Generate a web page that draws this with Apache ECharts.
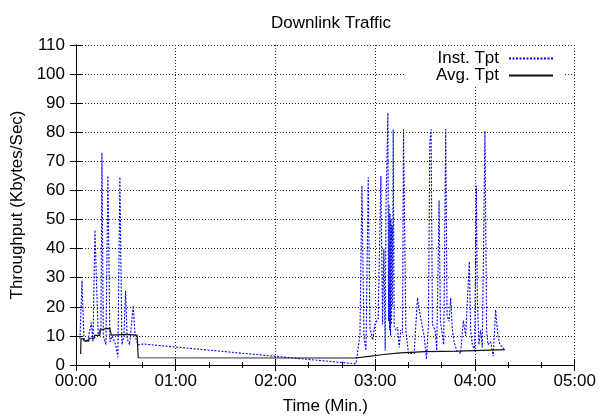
<!DOCTYPE html>
<html>
<head>
<meta charset="utf-8">
<script src="https://cdn.jsdelivr.net/npm/echarts@6/dist/echarts.min.js"></script>
<style>html,body{margin:0;padding:0;background:#fff}#c{width:599px;height:420px}</style>
</head>
<body>
<div id="c"></div>
<script>
// Time in seconds, values in Kbytes/Sec
var instTime = [2.4,3.6,4.8,7.0,9.2,10.2,11.4,12.4,13.4,15.0,15.6,16.4,18.0,19.2,20.4,21.8,23.8,25.2,26.4,27.6,28.8,29.8,30.8,32.2,34.4,35.6,37.2,40.8,
  168.4,169.4,170.8,172,173.2,174.4,175.8,176.8,178.4,179.8,181.8,183.4,184.4,185.2,186,186.4,187.6,188.0,188.3,188.6,188.9,189.2,189.5,189.8,190.1,190.4,190.8,191.4,192.4,193.4,194.4,195.4,196.4,197,198.4,200,
  203.4,205.4,207.4,209.4,210.8,212,212.8,213.6,214.4,216,217,218.4,219.2,220,221.2,222.4,223.2,224.4,225.4,226.4,227.4,229,231.4,233,234.4,236.6,237.4,238.4,239.8,240.8,241.4,242.4,243.4,244.4,246,247,247.8,249.4,251,252.4,253.8,255,257.4];
var instVal = [9,29,8.5,8,14.6,8,46.4,27,10,12,73,10,7,65,8,10,7,2.7,64.6,7,10,25.5,9,7,20.4,10,7,7.2,
  0.4,0.4,10.2,61.7,10,5,64.5,13,8.6,14,16,65,14,40,5,52,86.6,15,55,12,52,10,50,14,48,20,81,13,12,13,6,12,11,81,12,3.9,
  4,23,16,10,2,14,76,81,14,12,5,56.6,15,12,7,81,17,15,23,12,8,5,4,15.3,10,35.6,12,7,5,61.7,23,7,12,6,80.4,12,7,8,3,19,10,7,5.5];
var avgTime = [2.8,3.0,4.8,4.8,7.8,7.8,11.2,11.2,14.4,14.4,18,20.4,21.2,30,36.8,37.4,168,175,185,195,210,230,258];
var avgVal  = [3.8,9,9,8.3,8.3,9.2,9.2,10.2,10.2,12,12.5,12.6,10.3,10.5,10.3,2.5,2.4,2.9,3.6,4.2,4.6,4.8,5.3];
var xTickLabels = ['00:00','01:00','02:00','03:00','04:00','05:00'];
var yTickValues = [0,10,20,30,40,50,60,70,80,90,100,110];

function zip(a,b){var r=[];for(var i=0;i<a.length;i++)r.push([a[i],b[i]]);return r;}
var font = 'Liberation Sans, Arial, sans-serif';
var FS = 17;
var chart = echarts.init(document.getElementById('c'));
var axisLine = {show:true, lineStyle:{color:'#000', width:1}};
var grid = {show:true, lineStyle:{color:'#222', type:[1,2], width:1}};
chart.setOption({
  animation:false,
  title:{text:'Downlink Traffic', left:326, textAlign:'center', top:10, textStyle:{fontFamily:font, fontSize:FS, fontWeight:'normal', color:'#000'}},
  grid:{left:76, right:24, top:45, bottom:52},
  legend:{
    orient:'vertical', right:34, top:47, align:'right', itemWidth:44, itemHeight:14, itemGap:0,
    padding:[3,11,2,30], backgroundColor:'#fff',
    itemStyle:{opacity:0},
    textStyle:{fontFamily:font, fontSize:FS, color:'#000', padding:[0,5,0,0]},
    data:['Inst. Tpt','Avg. Tpt']
  },
  xAxis:[{
    type:'value', min:0, max:300, interval:60,
    name:'Time (Min.)', nameLocation:'middle', nameGap:33,
    nameTextStyle:{fontFamily:font, fontSize:FS, color:'#000'},
    axisLine:axisLine,
    axisTick:{show:true, inside:true, length:6, lineStyle:{color:'#000'}},
    minorTick:{show:true, splitNumber:3, length:3, lineStyle:{color:'#000'}},
    axisLabel:{fontFamily:font, fontSize:FS, color:'#000', margin:8, formatter:function(v){return xTickLabels[Math.round(v/60)];}},
    splitLine:grid
  },{
    type:'value', min:0, max:300, interval:60, position:'top',
    axisLine:axisLine,
    axisTick:{show:true, inside:true, length:6, lineStyle:{color:'#000'}},
    minorTick:{show:true, splitNumber:3, length:3, lineStyle:{color:'#000'}},
    axisLabel:{show:false}, splitLine:{show:false}
  }],
  yAxis:[{
    type:'value', min:0, max:110, interval:10,
    name:'Throughput (Kbytes/Sec)', nameLocation:'middle', nameGap:50,
    nameTextStyle:{fontFamily:font, fontSize:FS, color:'#000'},
    axisLine:axisLine,
    axisTick:{show:true, inside:true, length:6, lineStyle:{color:'#000'}},
    axisLabel:{fontFamily:font, fontSize:FS, color:'#000', margin:11,
      formatter:function(v){return yTickValues.indexOf(v)>=0?String(v):'';}},
    splitLine:grid
  },{
    type:'value', min:0, max:110, interval:10, position:'right',
    axisLine:axisLine,
    axisTick:{show:true, inside:true, length:6, lineStyle:{color:'#000'}},
    axisLabel:{show:false}, splitLine:{show:false}
  }],
  series:[{
    name:'Inst. Tpt', type:'line', showSymbol:false, symbol:'none',
    data:zip(instTime,instVal),
    lineStyle:{color:'#0000ff', width:1.1, type:[2,1.5]}, itemStyle:{color:'#0000ff'}
  },{
    name:'Avg. Tpt', type:'line', showSymbol:false, symbol:'none',
    data:zip(avgTime,avgVal),
    lineStyle:{color:'#111', width:1.2}, itemStyle:{color:'#000'}
  }]
});
</script>
</body>
</html>
